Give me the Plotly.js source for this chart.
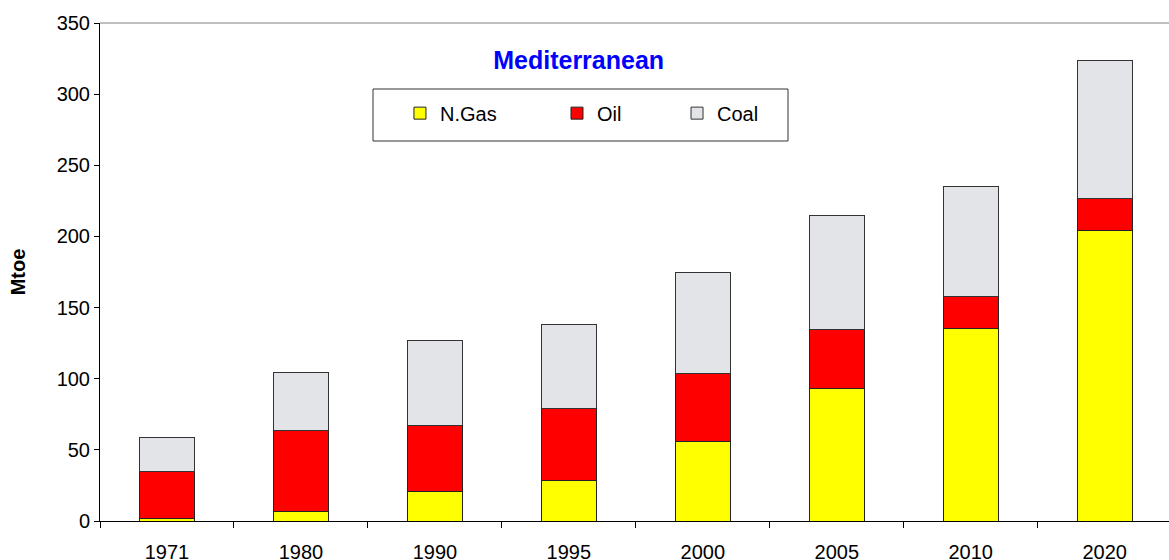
<!DOCTYPE html>
<html>
<head>
<meta charset="utf-8">
<script src="https://cdn.plot.ly/plotly-3.0.1.min.js"></script>
<style>html,body{margin:0;padding:0;background:#fff;}#chart{width:1169px;height:560px;}</style>
</head>
<body>
<div id="chart"></div>
<script>
const years = ["1971", "1980", "1990", "1995", "2000", "2005", "2010", "2020"];
const gas  = [1.6, 6.5, 20.6, 28.8, 56.2, 93.0, 135.4, 204.0];
const oil  = [33.5, 57.0, 46.2, 50.1, 47.6, 41.7, 22.7, 22.5];
const coal = [23.9, 41.2, 60.4, 59.3, 71.0, 80.1, 77.3, 97.0];
const seriesNames = ["N.Gas", "Oil", "Coal"];

const FONT = "Arial, 'Liberation Sans', sans-serif";
const lineStyle = {color: "#222", width: 1};

const traces = [
  {type: "bar", name: seriesNames[0], x: years, y: gas, width: 0.41,
   marker: {color: "#ffff00", line: lineStyle}, legend: "legend"},
  {type: "bar", name: seriesNames[1], x: years, y: oil, width: 0.41,
   marker: {color: "#ff0000", line: lineStyle}, legend: "legend2"},
  {type: "bar", name: seriesNames[2], x: years, y: coal, width: 0.41,
   marker: {color: "#e3e4e7", line: {color: "#333", width: 1}}, legend: "legend3"}
];

const legBase = {orientation: "h", yanchor: "middle", xanchor: "left", y: 0.819,
  bgcolor: "rgba(0,0,0,0)", borderwidth: 0, font: {family: FONT, size: 20, color: "#000"},
  itemwidth: 30};

const layout = {
  width: 1169, height: 560,
  margin: {l: 100, r: 0, t: 23, b: 39},
  paper_bgcolor: "#fff", plot_bgcolor: "#fff",
  barmode: "stack",
  font: {family: FONT, size: 20, color: "#000"},
  title: {text: "<b>Mediterranean</b>", font: {family: FONT, size: 25, color: "#0000ff"},
          x: 0.495, xref: "container", xanchor: "center", y: 0.893, yref: "container", yanchor: "middle"},
  xaxis: {type: "category", range: [-0.5, 7.48], tickson: "boundaries", ticks: "outside",
          ticklen: 6, tickcolor: "#000", showline: true, linecolor: "#000", linewidth: 1,
          showgrid: false, zeroline: false, tickfont: {family: FONT, size: 20, color: "#000"},
          ticklabelstandoff: 13, fixedrange: true},
  yaxis: {range: [0, 350], dtick: 50, ticks: "outside", ticklen: 5, tickcolor: "#000",
          showline: true, linecolor: "#000", linewidth: 1, showgrid: false, zeroline: false,
          tickfont: {family: FONT, size: 20, color: "#000"},
          title: {text: "<b>Mtoe</b>", font: {family: FONT, size: 20, color: "#000"}, standoff: 25},
          automargin: false},
  showlegend: true,
  legend: Object.assign({}, legBase, {x: 0.2806}),
  legend2: Object.assign({}, legBase, {x: 0.4275}),
  legend3: Object.assign({}, legBase, {x: 0.5398}),
  shapes: [
    {type: "line", xref: "paper", yref: "paper", x0: 0, x1: 1, y0: 1, y1: 1,
     line: {color: "#808080", width: 1}},
    {type: "rect", xref: "paper", yref: "paper",
     x0: (373 - 100) / 1069, x1: (788 - 100) / 1069, y0: (521 - 141) / 498, y1: (521 - 89) / 498,
     line: {color: "#333", width: 1}, fillcolor: "rgba(0,0,0,0)", layer: "below"}
  ]
};

Plotly.newPlot("chart", traces, layout, {displayModeBar: false, staticPlot: true});
</script>
</body>
</html>
